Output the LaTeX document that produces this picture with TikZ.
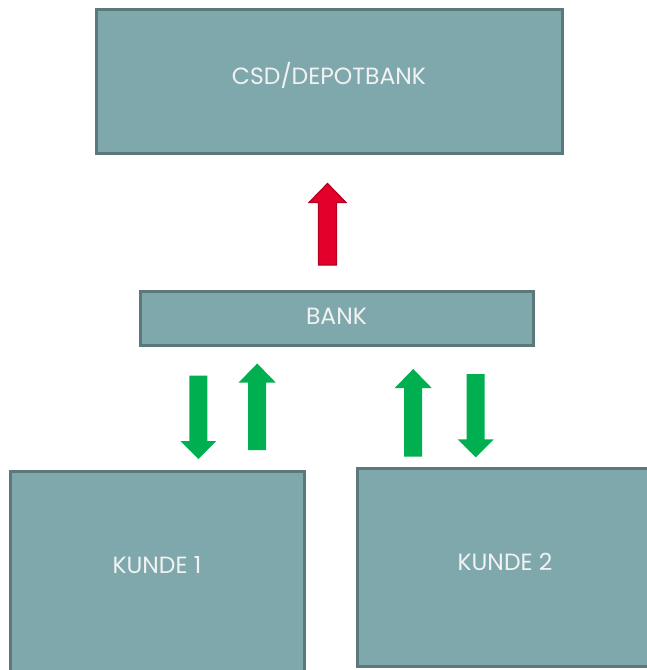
\documentclass[tikz,border=0pt]{standalone}
\usepackage{fontspec}
\setmainfont{Poppins}
\definecolor{boxfill}{HTML}{7FA8AD}
\definecolor{boxline}{HTML}{5B797B}
\definecolor{flowgreen}{HTML}{00B050}
\definecolor{flowred}{HTML}{E3002B}
\definecolor{flowredline}{HTML}{B5001F}
\tikzset{
  box/.style={draw=boxline, fill=boxfill, line width=3pt},
  boxtext/.style={text=white!95!black, font=\fontsize{23.5}{27}\selectfont, inner sep=0pt},
  greenarrow/.style={fill=flowgreen},
  redarrow/.style={fill=flowred, draw=flowredline, line width=1.2pt}
}
% block arrows: x, tail y, tip y, style
\newcommand{\uparrowblk}[4]{%
  \path[#4] (#1-9,#2) -- (#1-9,#3+19) -- (#1-18.5,#3+19) -- (#1,#3)
    -- (#1+18.5,#3+19) -- (#1+9,#3+19) -- (#1+9,#2) -- cycle;}
\newcommand{\downarrowblk}[4]{%
  \path[#4] (#1-9,#2) -- (#1-9,#3-18) -- (#1-18,#3-18) -- (#1,#3)
    -- (#1+18,#3-18) -- (#1+9,#3-18) -- (#1+9,#2) -- cycle;}
\begin{document}
\begin{tikzpicture}[x=1pt, y=-1pt]
            \clip (0,0) rectangle (647,670);
            \fill[white] (0,0) rectangle (647,670);

            % Boxes
            \draw[box] (96,9.5) rectangle (562,153.5);
            \node[boxtext] (csd) at (329,75) {CSD/DEPOTBANK};

            \draw[box] (140,291) rectangle (533,345);
            \node[boxtext] (bank) at (336.5,316) {BANK};

            \draw[box] (10.5,471) rectangle (304.5,690);
            \node[boxtext] (kunde1) at (157,565) {KUNDE 1};

            \draw[box] (357.5,468.5) rectangle (660,666.5);
            \node[boxtext] (kunde2) at (505,562) {KUNDE 2};

            % Arrows
            \uparrowblk{327.5}{265}{183.5}{redarrow}
            \downarrowblk{198.3}{375.5}{459}{greenarrow}
            \uparrowblk{257.2}{450}{363.5}{greenarrow}
            \uparrowblk{413.2}{456.7}{369}{greenarrow}
            \downarrowblk{475.7}{374}{457.3}{greenarrow}
        \end{tikzpicture}
\end{document}
